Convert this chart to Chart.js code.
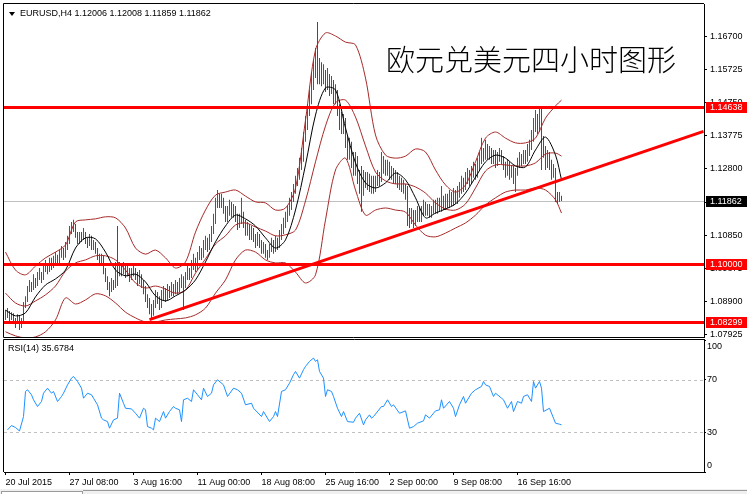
<!DOCTYPE html>
<html><head><meta charset="utf-8">
<script src="https://cdn.jsdelivr.net/npm/chart.js@4.4.1/dist/chart.umd.min.js"></script>
<style>
html,body{margin:0;padding:0;background:#fff;width:747px;height:494px;overflow:hidden;position:relative;font-family:'Liberation Sans',Arial,sans-serif;}
canvas{position:absolute;left:0;}
#c1{top:0;}
#c2{top:339px;}
.t{position:absolute;font-size:9px;line-height:11px;color:#000;white-space:pre;}
#tri{position:absolute;left:9px;top:12px;width:0;height:0;border-left:3px solid transparent;border-right:3px solid transparent;border-top:4px solid #000;}
#title{position:absolute;left:386px;top:43px;font-family:'Noto Sans CJK SC',sans-serif;font-weight:300;font-size:29px;line-height:30px;color:#000;white-space:nowrap;}
#strip{position:absolute;left:0;top:489px;width:747px;height:5px;background:#f0f0f0;}
#strip .a{position:absolute;left:83px;top:1px;right:0;border-top:1px solid #9a9a9a;}
#strip .b{position:absolute;left:1px;top:2px;width:80px;height:4px;border-top:1px solid #9a9a9a;border-left:1px solid #9a9a9a;border-right:1px solid #9a9a9a;background:#fff;}
</style></head><body>
<canvas id="c1" width="747" height="338" style="width:747px;height:338px"></canvas>
<canvas id="c2" width="747" height="155" style="width:747px;height:155px"></canvas>
<div id="tri"></div>
<div class="t" style="left:20px;top:8px">EURUSD,H4 1.12006 1.12008 1.11859 1.11862</div>
<div id="title">欧元兑美元四小时图形</div>
<div class="t" style="left:8px;top:343px">RSI(14) 35.6784</div>
<div id="strip"><div class="b"></div><div class="a"></div></div>
<script>
// ---------- DATA ----------
const closes = [
1.0847,1.0858,1.0841,1.0852,1.0835,1.0829,1.0841,1.0817,1.0835,1.0876,
1.0894,1.0923,1.0938,1.0929,1.0953,1.0941,1.0964,1.0970,1.0959,1.0982,
1.0994,1.0982,1.1006,1.0994,1.1006,1.1018,1.1006,1.1024,1.1035,1.1024,
1.1047,1.1065,1.1094,1.1106,1.1112,1.1088,1.1071,1.1083,1.1077,1.1088,
1.1071,1.1059,1.1077,1.1053,1.1059,1.1041,1.1024,1.1006,1.1018,1.0982,
1.0959,1.0938,1.0923,1.0947,1.0935,1.0994,1.0970,1.0994,1.0982,1.0994,
1.0976,1.0982,1.0964,1.0976,1.0982,1.0964,1.0953,1.0964,1.0947,1.0929,
1.0905,1.0888,1.0870,1.0858,1.0882,1.0905,1.0894,1.0876,1.0905,1.0917,
1.0900,1.0923,1.0911,1.0929,1.0917,1.0935,1.0923,1.0941,1.0953,1.0935,
1.0959,1.0976,1.0964,1.0994,1.1006,1.0988,1.1018,1.1035,1.1024,1.1053,
1.1065,1.1047,1.1071,1.1094,1.1124,1.1171,1.1195,1.1177,1.1189,1.1159,
1.1136,1.1154,1.1171,1.1148,1.1159,1.1136,1.1118,1.1130,1.1148,1.1118,
1.1094,1.1112,1.1083,1.1100,1.1077,1.1065,1.1083,1.1059,1.1041,1.1053,
1.1030,1.1024,1.1047,1.1059,1.1041,1.1065,1.1053,1.1083,1.1100,1.1118,
1.1136,1.1154,1.1171,1.1195,1.1218,1.1242,1.1260,1.1289,1.1313,1.1366,
1.1407,1.1448,1.1483,1.1530,1.1566,1.1595,1.1554,1.1578,1.1542,1.1566,
1.1524,1.1548,1.1513,1.1530,1.1489,1.1507,1.1454,1.1430,1.1401,1.1418,
1.1366,1.1330,1.1348,1.1307,1.1283,1.1307,1.1260,1.1236,1.1212,1.1260,
1.1236,1.1254,1.1230,1.1248,1.1224,1.1242,1.1260,1.1248,1.1277,1.1295,
1.1271,1.1289,1.1260,1.1271,1.1248,1.1260,1.1236,1.1248,1.1224,1.1230,
1.1201,1.1154,1.1130,1.1148,1.1124,1.1142,1.1154,1.1136,1.1154,1.1171,
1.1154,1.1165,1.1148,1.1159,1.1171,1.1159,1.1177,1.1165,1.1183,1.1171,
1.1189,1.1177,1.1195,1.1183,1.1201,1.1189,1.1207,1.1218,1.1236,1.1224,
1.1248,1.1260,1.1242,1.1266,1.1277,1.1260,1.1289,1.1307,1.1324,1.1313,
1.1336,1.1318,1.1330,1.1307,1.1318,1.1301,1.1313,1.1324,1.1307,1.1289,
1.1271,1.1289,1.1266,1.1277,1.1254,1.1271,1.1295,1.1313,1.1301,1.1318,
1.1307,1.1330,1.1342,1.1366,1.1401,1.1424,1.1395,1.1430,1.1366,1.1336,
1.1301,1.1318,1.1295,1.1266,1.1277,1.1201,1.1189,1.1201,1.11862];
const highs = [
1.0864,1.0870,1.0861,1.0858,1.0855,1.0841,1.0852,1.0847,1.0841,1.0888,
1.0905,1.0935,1.0953,1.0947,1.0970,1.0959,1.0976,1.0988,1.0976,1.0994,
1.1012,1.1003,1.1018,1.1018,1.1024,1.1035,1.1027,1.1041,1.1053,1.1047,
1.1065,1.1083,1.1112,1.1124,1.1130,1.1118,1.1094,1.1094,1.1094,1.1106,
1.1094,1.1077,1.1088,1.1083,1.1071,1.1065,1.1047,1.1030,1.1030,1.1024,
1.0988,1.0964,1.0947,1.0959,1.0953,1.1006,1.1112,1.1006,1.1000,1.1006,
1.1000,1.0994,1.0988,1.0988,1.1000,1.0988,1.0976,1.0982,1.0970,1.0953,
1.0935,1.0911,1.0900,1.0882,1.0894,1.0923,1.0917,1.0905,1.0923,1.0935,
1.0929,1.0941,1.0935,1.0947,1.0941,1.0953,1.0947,1.0959,1.0970,1.0964,
1.0976,1.0994,1.0988,1.1012,1.1030,1.1018,1.1035,1.1053,1.1047,1.1071,
1.1083,1.1077,1.1088,1.1112,1.1148,1.1195,1.1218,1.1207,1.1207,1.1195,
1.1171,1.1171,1.1189,1.1183,1.1177,1.1171,1.1148,1.1148,1.1195,1.1154,
1.1130,1.1124,1.1118,1.1112,1.1106,1.1088,1.1094,1.1088,1.1071,1.1065,
1.1059,1.1041,1.1059,1.1077,1.1071,1.1083,1.1077,1.1100,1.1118,1.1136,
1.1154,1.1171,1.1195,1.1212,1.1236,1.1260,1.1283,1.1313,1.1342,1.1389,
1.1436,1.1471,1.1513,1.1566,1.1601,1.1637,1.1713,1.1607,1.1595,1.1589,
1.1572,1.1578,1.1560,1.1554,1.1542,1.1530,1.1513,1.1471,1.1448,1.1442,
1.1430,1.1377,1.1372,1.1360,1.1330,1.1330,1.1318,1.1277,1.1289,1.1277,
1.1271,1.1271,1.1266,1.1260,1.1260,1.1260,1.1277,1.1271,1.1330,1.1318,
1.1307,1.1307,1.1301,1.1289,1.1283,1.1277,1.1271,1.1260,1.1254,1.1248,
1.1236,1.1230,1.1165,1.1165,1.1159,1.1159,1.1171,1.1165,1.1171,1.1189,
1.1183,1.1177,1.1177,1.1171,1.1189,1.1189,1.1195,1.1195,1.1230,1.1201,
1.1207,1.1207,1.1218,1.1212,1.1224,1.1218,1.1230,1.1242,1.1260,1.1254,
1.1271,1.1283,1.1277,1.1289,1.1301,1.1295,1.1313,1.1330,1.1372,1.1342,
1.1366,1.1354,1.1348,1.1342,1.1336,1.1336,1.1330,1.1342,1.1336,1.1318,
1.1301,1.1307,1.1301,1.1289,1.1289,1.1283,1.1313,1.1330,1.1324,1.1336,
1.1336,1.1354,1.1366,1.1395,1.1430,1.1454,1.1442,1.1466,1.1460,1.1377,
1.1348,1.1336,1.1330,1.1307,1.1295,1.1283,1.1212,1.1212,1.12008];
const lows = [
1.0835,1.0841,1.0829,1.0835,1.0826,1.0811,1.0823,1.0805,1.0811,1.0829,
1.0870,1.0888,1.0917,1.0917,1.0923,1.0929,1.0935,1.0953,1.0944,1.0953,
1.0976,1.0970,1.0976,1.0982,1.0988,1.1000,1.0994,1.1000,1.1018,1.1012,
1.1018,1.1041,1.1059,1.1088,1.1094,1.1077,1.1059,1.1059,1.1065,1.1071,
1.1059,1.1047,1.1053,1.1041,1.1041,1.1030,1.1012,1.0994,1.0994,1.0970,
1.0947,1.0923,1.0905,1.0917,1.0923,1.0929,1.0935,1.0964,1.0964,1.0970,
1.0959,1.0964,1.0947,1.0953,1.0964,1.0953,1.0935,1.0941,1.0929,1.0911,
1.0888,1.0870,1.0852,1.0841,1.0847,1.0870,1.0882,1.0864,1.0870,1.0894,
1.0888,1.0894,1.0900,1.0905,1.0905,1.0911,1.0911,1.0917,1.0929,1.0864,
1.0929,1.0953,1.0953,1.0959,1.0982,1.0976,1.0982,1.1012,1.1012,1.1018,
1.1041,1.1035,1.1041,1.1065,1.1088,1.1118,1.1165,1.1165,1.1165,1.1148,
1.1124,1.1124,1.1142,1.1136,1.1136,1.1124,1.1100,1.1106,1.1118,1.1106,
1.1083,1.1083,1.1071,1.1071,1.1065,1.1047,1.1053,1.1047,1.1030,1.1030,
1.1018,1.1012,1.1018,1.1035,1.1030,1.1035,1.1041,1.1047,1.1071,1.1088,
1.1106,1.1124,1.1142,1.1159,1.1183,1.1207,1.1230,1.1248,1.1277,1.1301,
1.1360,1.1395,1.1436,1.1471,1.1513,1.1548,1.1530,1.1530,1.1524,1.1530,
1.1507,1.1513,1.1495,1.1501,1.1471,1.1471,1.1436,1.1395,1.1383,1.1383,
1.1342,1.1307,1.1307,1.1283,1.1260,1.1260,1.1236,1.1207,1.1154,1.1201,
1.1224,1.1218,1.1212,1.1207,1.1207,1.1212,1.1230,1.1230,1.1242,1.1266,
1.1260,1.1260,1.1248,1.1248,1.1236,1.1236,1.1224,1.1218,1.1212,1.1207,
1.1189,1.1112,1.1106,1.1118,1.1106,1.1112,1.1124,1.1124,1.1124,1.1142,
1.1142,1.1142,1.1136,1.1136,1.1148,1.1148,1.1148,1.1154,1.1154,1.1159,
1.1159,1.1165,1.1165,1.1171,1.1171,1.1177,1.1177,1.1195,1.1207,1.1212,
1.1218,1.1236,1.1230,1.1236,1.1254,1.1248,1.1254,1.1277,1.1295,1.1301,
1.1307,1.1307,1.1307,1.1295,1.1295,1.1283,1.1289,1.1301,1.1295,1.1277,
1.1254,1.1260,1.1248,1.1254,1.1236,1.1212,1.1260,1.1283,1.1289,1.1295,
1.1295,1.1301,1.1318,1.1336,1.1360,1.1389,1.1383,1.1389,1.1277,1.1313,
1.1277,1.1283,1.1277,1.1248,1.1254,1.1183,1.1177,1.1183,1.11859];
const firstOpen = 1.0842;

const bandBars = [0,5,10,15,20,25,30,35,40,45,50,55,60,65,70,75,80,85,90,95,100,105,110,115,120,125,130,135,140,145,150,155,160,165,170,175,180,185,190,195,200,205,210,215,220,225,230,235,240,245,250,255,260,265,270,275,278];
const upperBand = [1.1035,1.0982,1.0968,1.0994,1.1018,1.1035,1.1056,1.1124,1.1130,1.1133,
1.1139,1.1136,1.1106,1.1047,1.1029,1.1041,1.1018,1.0988,1.1006,1.1094,
1.1159,1.1203,1.1212,1.1218,1.1200,1.1183,1.1180,1.1159,1.1165,1.1224,
1.1424,1.1631,1.1681,1.1672,1.1654,1.1646,1.1548,1.1380,1.1321,1.1312,
1.1318,1.1339,1.1330,1.1277,1.1233,1.1212,1.1233,1.1301,1.1371,1.1389,
1.1371,1.1357,1.1357,1.1371,1.1430,1.1466,1.1483];
const middleBand = [1.0914,1.0885,1.0876,1.0891,1.0909,1.0935,1.0979,1.1003,1.1012,1.1024,
1.1024,1.1012,1.0982,1.0944,1.0929,1.0935,1.0926,1.0914,1.0923,1.0973,
1.1015,1.1059,1.1083,1.1115,1.1121,1.1109,1.1097,1.1083,1.1086,1.1100,
1.1186,1.1301,1.1407,1.1475,1.1483,1.1433,1.1348,1.1271,1.1245,1.1236,
1.1236,1.1227,1.1209,1.1180,1.1162,1.1159,1.1177,1.1224,1.1274,1.1292,
1.1292,1.1289,1.1289,1.1298,1.1324,1.1327,1.1318];
const lowerBand = [1.0800,1.0788,1.0782,1.0785,1.0800,1.0835,1.0900,1.0882,1.0894,1.0912,
1.0906,1.0885,1.0858,1.0841,1.0829,1.0829,1.0835,1.0838,1.0841,1.0850,
1.0870,1.0914,1.0953,1.1012,1.1041,1.1035,1.1012,1.1003,1.1003,1.0976,
1.0944,1.0968,1.1130,1.1277,1.1312,1.1218,1.1144,1.1159,1.1165,1.1159,
1.1153,1.1115,1.1085,1.1080,1.1091,1.1106,1.1121,1.1144,1.1174,1.1195,
1.1212,1.1218,1.1218,1.1224,1.1218,1.1189,1.1150];
const maLine = [1.0864,1.0847,1.0856,1.0903,1.0938,1.0956,1.0982,1.1047,1.1077,1.1074,
1.1035,1.0982,1.0965,1.0970,1.0947,1.0906,1.0891,1.0906,1.0923,1.0953,
1.1006,1.1065,1.1112,1.1144,1.1133,1.1112,1.1077,1.1047,1.1071,1.1159,
1.1292,1.1439,1.1519,1.1513,1.1401,1.1298,1.1239,1.1224,1.1239,1.1268,
1.1248,1.1195,1.1136,1.1150,1.1162,1.1177,1.1209,1.1256,1.1301,1.1321,
1.1312,1.1289,1.1286,1.1336,1.1374,1.1321,1.1248];

const trendBars = [72, 349];
const trendPrices = [1.0836, 1.1391];
const redLevels = [1.14638, 1.10000, 1.08299];
const currentPrice = 1.11862;
const priceTicks = [1.07925,1.08900,1.09875,1.10850,1.11825,1.12800,1.13775,1.14750,1.15725,1.16700];

const rsiBars = [
1,3,5,7,9,10,11,13,14,16, 18,19,21,23,24,26,28,29,31,33,
34,36,38,39,41,43,44,46,48,49, 51,52,54,56,57,59,60,63,65,67,
69,70,71,73,74,75,77,79,80,82, 84,85,87,88,89,91,93,94,96,98,
99,101,103,104,106,109,111,114,116,118, 120,123,124,128,129,132,134,135,136,138,
140,142,144,145,147,149,150,152,154,155, 156,157,159,160,161,163,164,166,168,169,
171,174,175,177,179,180,182,183,184,188, 189,191,193,194,197,200,202,204,206,209,
210,212,214,215,217,218,219,222,224,225, 227,229,230,233,235,238,239,240,242,244,
245,248,249,251,253,254,256,258,259,261, 263,264,265,267,268,269,272,274,275,277,278];
const rsiValues = [
31.9,35.2,33.7,31.1,42,61,62.3,58.5,54.7,49.6, 53.4,59.7,63.5,59.7,61,53.4,57.2,59.7,66,71.1,
72.4,68.6,63.5,55.9,59.7,58.5,55.9,50.9,40.8,39.5, 38.2,33.2,39.5,40.8,59.7,52.1,48.3,47.8,44.5,40.8,
48.3,47.1,34.4,33.2,31.9,40.8,38.2,45.8,40.8,45.8, 49.6,48.3,47.1,38.2,54.7,55.9,53.4,62.3,58.5,54.7,
63.5,57.2,59.7,66,69.9,66,57.2,63.5,62.3,59.7, 50.9,52.1,48.3,42,45.8,38.2,42,45.8,42,61,
62.3,67.3,73.7,76.2,71.1,77.5,80,83.8,86.3,83.8, 85,76.2,71.1,57.2,62.3,61,57.2,48.3,42,45.8,
38.2,37.7,40.8,44.5,35.7,39.5,43.3,40.8,42,49.6, 49.6,54.7,49.6,50.9,44.5,46.3,33.2,34.4,37,38.7,
43.3,40.8,44.5,46.3,47.1,54.7,48.3,53.4,48.3,42, 50.9,57.2,52.1,59.7,62.3,64.8,68.6,66,64.8,57.2,
59.7,55.9,54.7,48.3,53.4,45.8,53.4,52.1,57.2,58.5, 53.4,68.6,63.5,68.6,63.5,45.8,48.3,40.8,37,36.2,35.68];
const rsiTicks = [0, 30, 70, 100];
const rsiGuides = [30, 70];

const tickBars = [0, 32, 64, 96, 128, 160, 192, 224, 256];
const tickLabels = ['20 Jul 2015','27 Jul 08:00','3 Aug 16:00','11 Aug 00:00','18 Aug 08:00','25 Aug 16:00','2 Sep 00:00','9 Sep 08:00','16 Sep 16:00'];

// ---------- STYLE ----------
const GREEN = '#009000', RED = '#ff0000', BROWN = '#a52a2a';
const FONT = "'Liberation Sans', Arial, sans-serif";
const xMin = -0.75, xMax = 349.25;
const priceMin = 1.07847, priceMax = 1.17664;

Chart.defaults.font.family = FONT;
Chart.defaults.font.size = 9;
Chart.defaults.color = '#000';

const opens = [firstOpen].concat(closes.slice(0, -1));
const bullData = [], bearData = [];
closes.forEach((c, i) => {
  const p = {x: i, y: [lows[i], highs[i]]};
  if (c >= opens[i]) bullData.push(p); else bearData.push(p);
});
const pts = (xs, ys) => xs.map((x, k) => ({x: x, y: ys[k]}));

const mainPlugin = {
  id: 'mainDeco',
  beforeDatasetsDraw(chart) {
    const {ctx, chartArea: a, scales: {y}} = chart;
    const py = Math.round(y.getPixelForValue(currentPrice)) + 0.5;
    ctx.save();
    ctx.strokeStyle = '#c0c0c0'; ctx.lineWidth = 1;
    ctx.beginPath(); ctx.moveTo(a.left, py); ctx.lineTo(a.right, py); ctx.stroke();
    ctx.restore();
  },
  afterDatasetsDraw(chart) {
    const {ctx, chartArea: a, scales: {y}} = chart;
    ctx.save();
    ctx.strokeStyle = RED; ctx.lineWidth = 3;
    redLevels.forEach(v => {
      const py = Math.round(y.getPixelForValue(v)) + 0.5;
      ctx.beginPath(); ctx.moveTo(a.left, py); ctx.lineTo(a.right, py); ctx.stroke();
    });
    ctx.restore();
  },
  afterDraw(chart) {
    const {ctx, chartArea: a, scales: {y}} = chart;
    ctx.save();
    ctx.strokeStyle = '#000'; ctx.lineWidth = 1;
    ctx.beginPath();
    ctx.moveTo(a.right, a.top - 0.5); ctx.lineTo(a.left - 0.5, a.top - 0.5);
    ctx.lineTo(a.left - 0.5, a.bottom + 0.5); ctx.lineTo(a.right, a.bottom + 0.5);
    ctx.stroke();
    ctx.font = '9px ' + FONT; ctx.textBaseline = 'middle'; ctx.textAlign = 'left';
    const box = (v, bg) => {
      const py = Math.round(y.getPixelForValue(v));
      ctx.fillStyle = bg; ctx.fillRect(y.left + 2, py - 5, chart.width - y.left - 2, 11);
      ctx.fillStyle = '#fff'; ctx.fillText(v.toFixed(5), y.left + 6, py + 0.5);
    };
    redLevels.forEach(v => box(v, RED));
    box(currentPrice, '#000');
    ctx.restore();
  }
};

const barStyle = {type: 'bar', barThickness: 1, maxBarThickness: 1, borderWidth: 0, inflateAmount: 0, grouped: false, order: 10};

new Chart(document.getElementById('c1'), {
  type: 'bar',
  data: {
    datasets: [
      Object.assign({data: bullData, backgroundColor: GREEN, borderColor: GREEN}, barStyle),
      Object.assign({data: bearData, backgroundColor: RED, borderColor: RED}, barStyle),
      {type: 'line', data: pts(bandBars, upperBand), borderColor: BROWN, borderWidth: 1, pointRadius: 0, tension: 0.3, order: 4},
      {type: 'line', data: pts(bandBars, middleBand), borderColor: BROWN, borderWidth: 1, pointRadius: 0, tension: 0.3, order: 4},
      {type: 'line', data: pts(bandBars, lowerBand), borderColor: BROWN, borderWidth: 1, pointRadius: 0, tension: 0.3, order: 4},
      {type: 'line', data: pts(bandBars, maLine), borderColor: '#000', borderWidth: 1, pointRadius: 0, tension: 0.3, order: 3},
      {type: 'line', data: pts(trendBars, trendPrices), borderColor: RED, borderWidth: 3, pointRadius: 0, tension: 0, order: 1}
    ]
  },
  options: {
    responsive: false, animation: false, events: [],
    layout: {padding: {left: 4, top: 4, right: 0, bottom: 1}},
    plugins: {legend: {display: false}, tooltip: {enabled: false}},
    scales: {
      x: {type: 'linear', min: xMin, max: xMax, display: false, offset: false},
      y: {
        type: 'linear', position: 'right', min: priceMin, max: priceMax,
        afterBuildTicks: s => { s.ticks = priceTicks.map(v => ({value: v})); },
        afterFit: s => { s.width = 43; s.paddingTop = 0; s.paddingBottom = 0; },
        ticks: {autoSkip: false, padding: 3, color: '#000', callback: v => Number(v).toFixed(5)},
        grid: {drawOnChartArea: false, drawTicks: true, tickLength: 3, color: '#000'},
        border: {display: true, color: '#000'}
      }
    }
  },
  plugins: [mainPlugin]
});

const rsiPlugin = {
  id: 'rsiDeco',
  beforeDatasetsDraw(chart) {
    const {ctx, chartArea: a, scales: {y}} = chart;
    ctx.save();
    ctx.strokeStyle = '#c0c0c0'; ctx.lineWidth = 1; ctx.setLineDash([3, 3]);
    rsiGuides.forEach(v => {
      const py = Math.round(y.getPixelForValue(v)) + 0.5;
      ctx.beginPath(); ctx.moveTo(a.left, py); ctx.lineTo(a.right, py); ctx.stroke();
    });
    ctx.restore();
  },
  afterDraw(chart) {
    const {ctx, chartArea: a, scales: {y}} = chart;
    ctx.save();
    ctx.strokeStyle = '#000'; ctx.lineWidth = 1;
    ctx.beginPath();
    ctx.moveTo(a.left - 0.5, a.bottom); ctx.lineTo(a.left - 0.5, a.top - 0.5); ctx.lineTo(a.right + 1, a.top - 0.5);
    ctx.stroke();
    ctx.fillStyle = '#000'; ctx.font = '9px ' + FONT; ctx.textBaseline = 'middle'; ctx.textAlign = 'left';
    rsiTicks.forEach(v => {
      let py = y.getPixelForValue(v);
      if (v === 100) py += 7;
      if (v === 0) py -= 6;
      ctx.fillText(String(v), y.left + 3, py);
    });
    ctx.restore();
  }
};

new Chart(document.getElementById('c2'), {
  type: 'line',
  data: {datasets: [{data: pts(rsiBars, rsiValues), borderColor: '#1e90ff', borderWidth: 1, pointRadius: 0, tension: 0}]},
  options: {
    responsive: false, animation: false, events: [],
    layout: {padding: {left: 4, top: 1, right: 0, bottom: 0}},
    plugins: {legend: {display: false}, tooltip: {enabled: false}},
    scales: {
      x: {
        type: 'linear', position: 'bottom', min: xMin, max: xMax, offset: false,
        afterBuildTicks: s => { s.ticks = tickBars.map(v => ({value: v})); },
        afterFit: s => { s.height = 22; s.paddingLeft = 0; s.paddingRight = 0; },
        ticks: {autoSkip: false, maxRotation: 0, minRotation: 0, align: 'start', padding: 2, color: '#000',
                callback: (v, i) => tickLabels[i]},
        grid: {drawOnChartArea: false, drawTicks: true, tickLength: 3, color: '#000'},
        border: {display: true, color: '#000'}
      },
      y: {
        type: 'linear', position: 'right', min: 0, max: 100,
        afterBuildTicks: s => { s.ticks = rsiTicks.map(v => ({value: v})); },
        afterFit: s => { s.width = 43; s.paddingTop = 0; s.paddingBottom = 0; },
        ticks: {display: false},
        grid: {drawOnChartArea: false, drawTicks: true, tickLength: 2, color: '#000'},
        border: {display: true, color: '#000'}
      }
    }
  },
  plugins: [rsiPlugin]
});
</script>
</body></html>
